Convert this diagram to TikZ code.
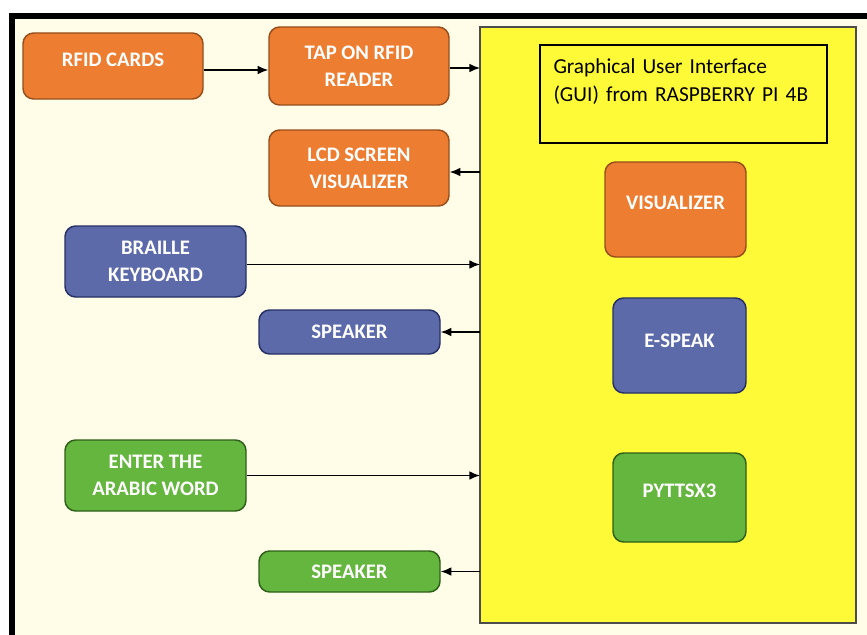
\documentclass[tikz,border=0pt]{standalone}
\usepackage{fontspec}
\setmainfont{Carlito}
\newfontfamily\guifont[WordSpace=0.6]{Carlito}
\usepackage{xcolor}
\usetikzlibrary{arrows.meta,calc}

\definecolor{creambg}{RGB}{255,252,232}
\definecolor{panelyellow}{RGB}{255,250,55}
\definecolor{boxorange}{RGB}{237,125,49}
\definecolor{edgeorange}{RGB}{150,78,28}
\definecolor{boxblue}{RGB}{92,106,170}
\definecolor{edgeblue}{RGB}{38,48,100}
\definecolor{boxgreen}{RGB}{100,182,62}
\definecolor{edgegreen}{RGB}{45,95,25}

\begin{document}
\begin{tikzpicture}[x=0.75pt,y=0.75pt,yscale=-1,xscale=1,
        block/.style={rounded corners=8pt, line width=1.1pt, text=white, align=center, inner sep=0pt, font=\bfseries\fontsize{15.5}{20.5}\selectfont},
        orangeblock/.style={block, fill=boxorange, draw=edgeorange},
        blueblock/.style={block, fill=boxblue, draw=edgeblue},
        greenblock/.style={block, fill=boxgreen, draw=edgegreen},
        arrow/.style={line width=1pt, -{Latex[length=8pt,width=6.5pt]}}]
        \useasboundingbox (0,0) rectangle (867,635);
        \fill [white] (0,0) rectangle (867,635);
        \fill [creambg] (11.5,16) rectangle (867,635);
        \draw [line width=4.5pt] (11.5,635) -- (11.5,16) -- (867,16);
        \draw (668,325) node (guipanel) [fill=panelyellow, draw=black!70, line width=0.8pt, minimum width=282pt, minimum height=447pt, outer sep=0pt] {};
        \draw (683.5,94) node (guibox) [draw=black, line width=1.1pt, minimum width=215.25pt, minimum height=73.5pt, text width=195pt, align=left, font=\guifont\fontsize{16}{21}\selectfont] {Graphical User Interface\\(GUI) from RASPBERRY PI 4B\\\mbox{}};
        \draw (113,66) node (rfidcards) [orangeblock, minimum width=135pt, minimum height=49.5pt, text depth=10pt] {RFID CARDS};
        \draw (359,66) node (tapreader) [orangeblock, minimum width=135pt, minimum height=58.5pt] {TAP ON RFID\\READER};
        \draw (359,168) node (lcdscreen) [orangeblock, minimum width=135pt, minimum height=57pt] {LCD SCREEN\\VISUALIZER};
        \draw (155.5,261.5) node (braillekey) [blueblock, minimum width=135.75pt, minimum height=53.25pt] {BRAILLE\\KEYBOARD};
        \draw (349.5,332) node (speakerblue) [blueblock, minimum width=135.75pt, minimum height=33pt] {SPEAKER};
        \draw (155.5,475.5) node (arabicword) [greenblock, minimum width=135.75pt, minimum height=53.25pt] {ENTER THE\\ARABIC WORD};
        \draw (349.5,571.5) node (speakergreen) [greenblock, minimum width=135.75pt, minimum height=30.75pt] {SPEAKER};
        \draw (675.5,209.5) node (visualizer) [orangeblock, minimum width=105.75pt, minimum height=71.25pt, text depth=10pt] {VISUALIZER};
        \draw (679.5,345.5) node (espeak) [blueblock, minimum width=99.75pt, minimum height=71.25pt, text depth=7.5pt] {E-SPEAK};
        \draw (679.5,497.5) node (pyttsx) [greenblock, minimum width=99.75pt, minimum height=66.75pt, text depth=10.5pt] {PYTTSX3};
        \draw [arrow] ($(rfidcards.east)+(0,4)$) -- ($(tapreader.west)+(0,4)$);
        \draw [arrow] ($(tapreader.east)+(0,2)$) -- ($(guipanel.west |- tapreader.east)+(0,2)$);
        \draw [arrow] ($(guipanel.west |- lcdscreen.east)+(0,4)$) -- ($(lcdscreen.east)+(0,4)$);
        \draw [arrow] ($(braillekey.east)+(0,3)$) -- ($(guipanel.west |- braillekey.east)+(0,3)$);
        \draw [arrow] (guipanel.west |- speakerblue.east) -- (speakerblue.east);
        \draw [arrow] (arabicword.east) -- (guipanel.west |- arabicword.east);
        \draw [arrow] (guipanel.west |- speakergreen.east) -- (speakergreen.east);
\end{tikzpicture}
\end{document}
